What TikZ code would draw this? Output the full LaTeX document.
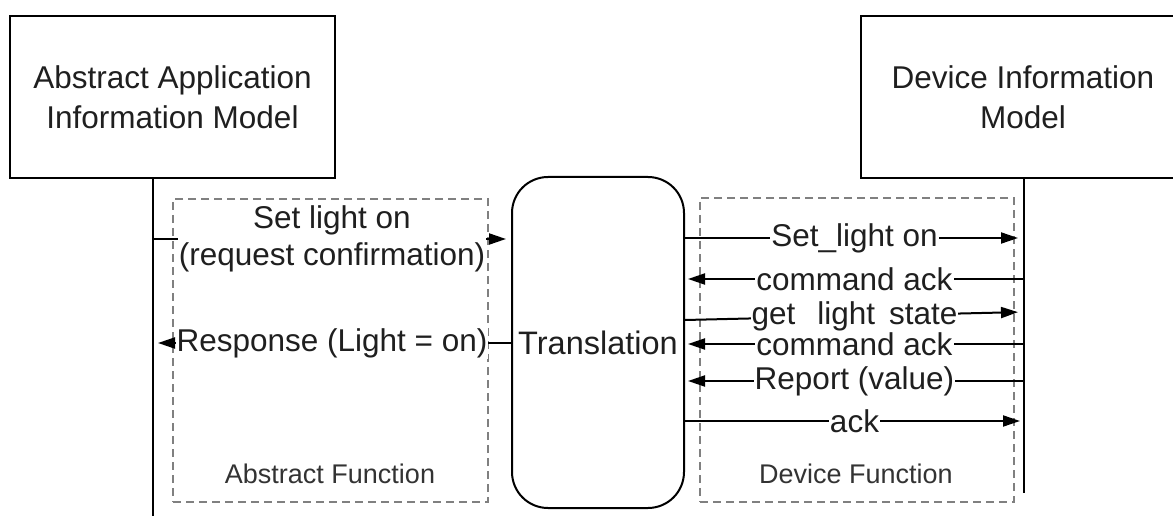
\documentclass[tikz,border=0pt]{standalone}
\usepackage{fontspec}
\setmainfont{Liberation Sans}
\usetikzlibrary{arrows.meta}
\begin{document}
\begin{tikzpicture}[x=1pt,y=-1pt,
 every node/.style={font=\fontsize{31.5}{40}\selectfont, text=black!88},
 model/.style={draw, line width=2pt, align=center, inner sep=0pt},
 trbox/.style={draw, line width=2pt, rounded corners=36pt, inner sep=0pt, font=\fontsize{32.5}{40}\selectfont},
 frame/.style={draw=black!50, line width=1.6pt, dash pattern=on 8pt off 5pt, inner sep=0pt},
 life/.style={line width=2pt},
 msg/.style={line width=2pt, -{Triangle[length=17pt,width=11pt]}},
 lbl/.style={fill=white, inner sep=1pt, align=center},
 captxt/.style={font=\fontsize{27}{32}\selectfont, text=black!80}
]
\useasboundingbox (0,0) rectangle (1173,516);
\clip (0,0) rectangle (1173,516);
\fill[white] (0,0) rectangle (1173,516);

% dashed function frames
\node[frame, minimum width=315pt, minimum height=303pt] (absf) at (330.5,350.5) {};
\node[frame, minimum width=314pt, minimum height=304pt] (devf) at (857,350) {};
\node[captxt] (absl) at (330,474) {Abstract Function};
\node[captxt] (devl) at (856,474) {Device Function};

% models
\node[model, minimum width=325pt, minimum height=162pt] (aaim) at (172.5,97) {Abstract Application\\Information Model};
\node[model, minimum width=324pt, minimum height=162pt] (dim) at (1023,97) {Device Information\\Model};
\node[trbox, minimum width=172pt, minimum height=331pt] (trans) at (598,342.5) {Translation};

% lifelines
\coordinate (lb) at (153,516);
\coordinate (rb) at (1024,493);
\draw[life] (aaim.south -| lb) -- (lb);
\draw[life] (dim.south -| rb) -- (rb);

% abstract side messages
\draw[msg, shorten >=5pt] (lb |- 0,239) -- node[lbl] {Set light on\\[-3pt](request confirmation)} (trans.west |- 0,239);
\draw[msg, shorten >=5pt] (trans.west |- 0,343) -- node[lbl] {Response (Light = on)} (lb |- 0,343);

% device side messages
\draw[msg, shorten >=6pt] (trans.east |- 0,238) -- node[lbl] {Set\_light on} (rb |- 0,238);
\draw[msg, shorten >=3pt] (rb |- 0,279) -- node[lbl] {command ack} (trans.east |- 0,279);
\draw[msg, shorten >=6pt] (trans.east |- 0,320) -- node[lbl] {get\hspace{22pt}light\hspace{14pt}state} (rb |- 0,312);
\draw[msg, shorten >=3pt] (rb |- 0,344) -- node[lbl] {command ack} (trans.east |- 0,344);
\draw[msg, shorten >=3pt] (rb |- 0,381) -- node[lbl] {Report (value)} (trans.east |- 0,381);
\draw[msg, shorten >=4pt] (trans.east |- 0,421) -- node[lbl] {ack} (rb |- 0,421);
\end{tikzpicture}
\end{document}
